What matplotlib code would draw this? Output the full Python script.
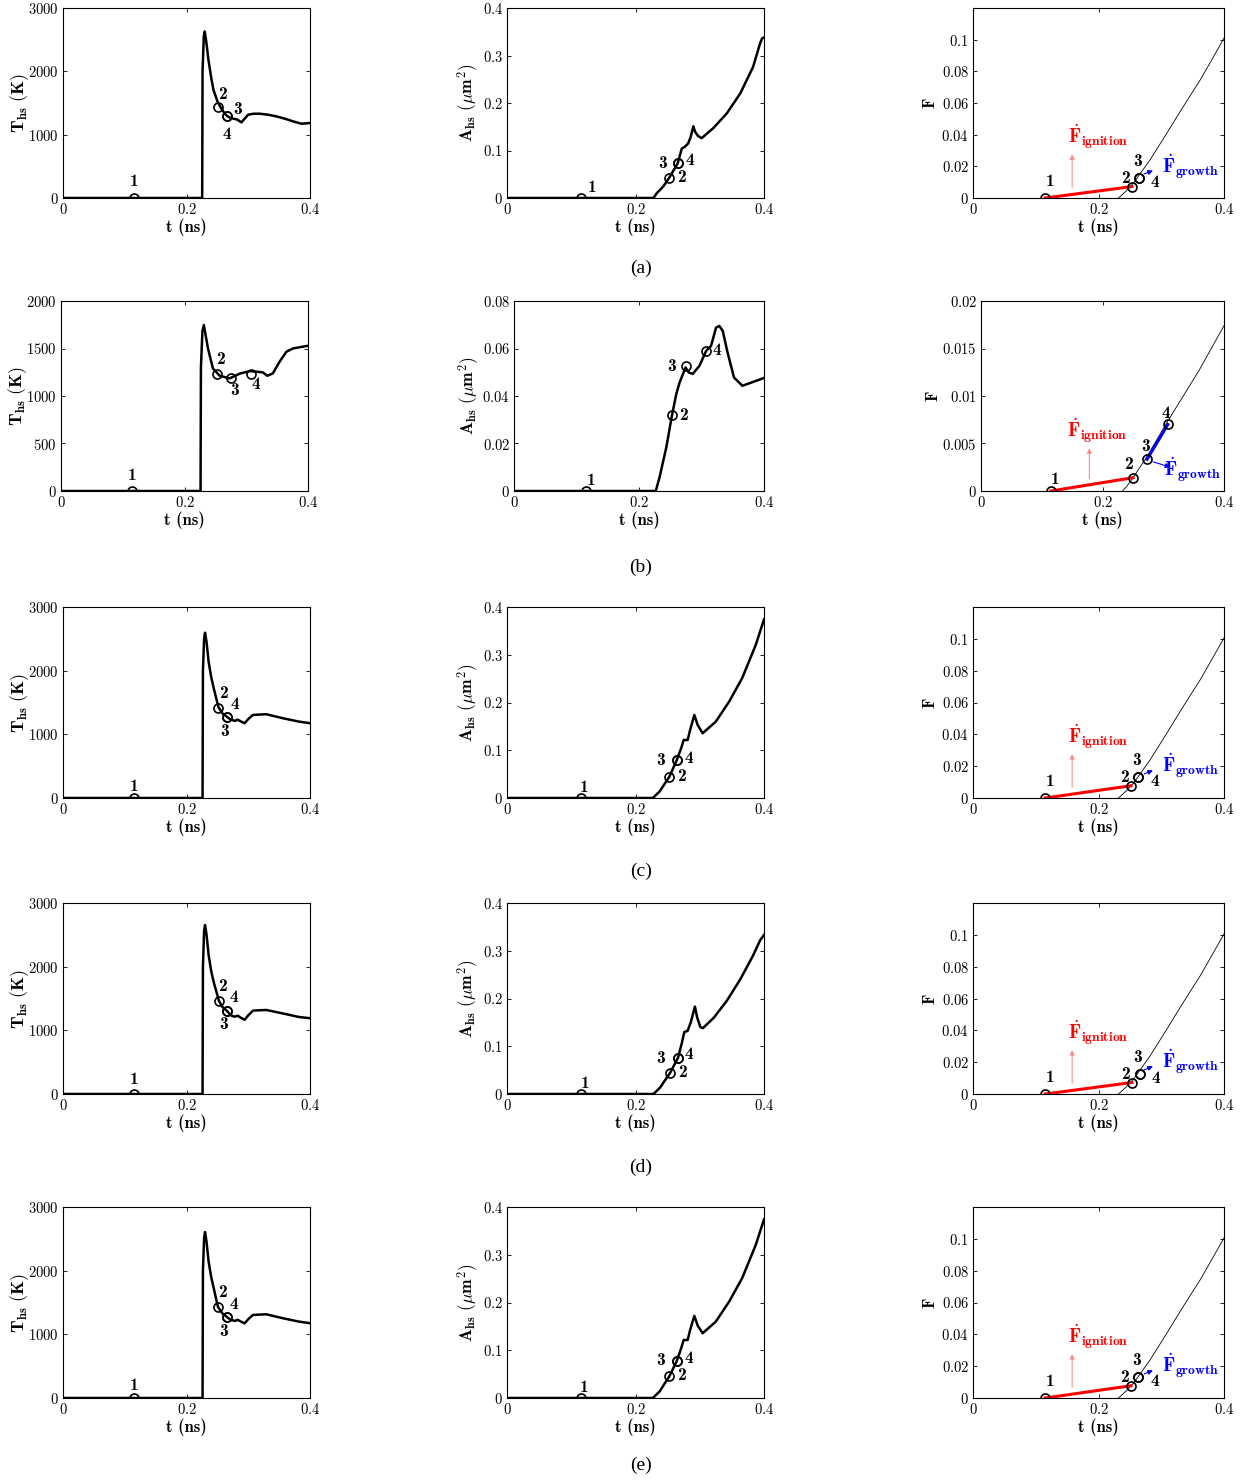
import matplotlib
matplotlib.use("Agg")
import matplotlib.pyplot as plt
from matplotlib.ticker import FuncFormatter, FixedLocator

plt.rcParams['mathtext.fontset'] = 'cm'
plt.rcParams['font.family'] = ['Liberation Serif', 'DejaVu Serif']

# ---------------- data ----------------
# row (a)
ta_T = [0.0, 0.2254, 0.2260, 0.2280, 0.2295, 0.2320, 0.2355, 0.2400, 0.2436, 0.2500, 0.2544, 0.2600,
        0.2650, 0.2700, 0.2757, 0.2820, 0.2890, 0.2940, 0.2997, 0.3080, 0.3186, 0.3320, 0.3455, 0.3600,
        0.3725, 0.3860, 0.4000]
Ta = [0, 0, 2000, 2550, 2630, 2470, 2184, 1900, 1710, 1530, 1446, 1360, 1300, 1270, 1252, 1240,
      1194, 1250, 1315, 1330, 1331, 1315, 1289, 1250, 1210, 1173, 1184]
ta_A = [0.0, 0.228, 0.233, 0.243, 0.2527, 0.2657, 0.272, 0.277, 0.282, 0.286, 0.290, 0.2926, 0.297,
        0.303, 0.321, 0.342, 0.363, 0.383, 0.394, 0.397, 0.400]
Aa = [0, 0, 0.010, 0.024, 0.043, 0.073, 0.104, 0.108, 0.115, 0.129, 0.151, 0.140, 0.131, 0.126,
      0.147, 0.178, 0.220, 0.276, 0.326, 0.336, 0.338]
ta_F = [0.232, 0.243, 0.2555, 0.282, 0.309, 0.335, 0.362, 0.383, 0.400]
Fa = [0, 0.0040, 0.0093, 0.024, 0.041, 0.0577, 0.0745, 0.089, 0.101]
pa_t_T, pa_T = [0.115, 0.2506, 0.265, 0.2655], [0, 1437, 1289, 1289]
pa_t_A, pa_A = [0.115, 0.2527, 0.2657, 0.2657], [0, 0.043, 0.073, 0.073]
pa_t_F, pa_F = [0.115, 0.253, 0.265, 0.265], [0, 0.0072, 0.0128, 0.0128]

# row (b)
tb_T = [0.0, 0.226, 0.2266, 0.2290, 0.2313, 0.2340, 0.238, 0.246, 0.257, 0.273, 0.290, 0.306, 0.318,
        0.327, 0.334, 0.343, 0.354, 0.365, 0.376, 0.388, 0.400]
Tb = [0, 0, 1300, 1680, 1747, 1650, 1501, 1290, 1213, 1185, 1237, 1262, 1255, 1248, 1213, 1237,
      1361, 1466, 1501, 1515, 1529]
tb_A = [0.0, 0.2268, 0.233, 0.2438, 0.2527, 0.2597, 0.265, 0.2745, 0.2797, 0.286, 0.2967, 0.3074,
        0.3153, 0.3233, 0.3285, 0.334, 0.3417, 0.352, 0.3655, 0.400]
Ab = [0, 0, 0.0059, 0.0185, 0.0318, 0.0409, 0.0457, 0.052, 0.0499, 0.0493, 0.0527, 0.059, 0.0611,
      0.0688, 0.0695, 0.0674, 0.0583, 0.0478, 0.0443, 0.0476]
tb_F = [0.233, 0.240, 0.2503, 0.272, 0.305, 0.332, 0.359, 0.400]
Fb = [0, 0.0005, 0.0014, 0.0035, 0.0071, 0.0099, 0.0127, 0.0174]
pb_t_T, pb_T = [0.115, 0.252, 0.275, 0.307], [0, 1227, 1185, 1227]
pb_t_A, pb_A = [0.115, 0.2527, 0.2745, 0.3074], [0, 0.0318, 0.0525, 0.059]
pb_t_F, pb_F = [0.115, 0.2503, 0.2733, 0.3075], [0, 0.0014, 0.00334, 0.0070]

# row (c)
tc_T = [0.0, 0.226, 0.2266, 0.2285, 0.2300, 0.2325, 0.2357, 0.2400, 0.244, 0.2517, 0.258, 0.265,
        0.270, 0.274, 0.278, 0.283, 0.2876, 0.294, 0.300, 0.3077, 0.329, 0.356, 0.382, 0.400]
Tc = [0, 0, 2000, 2500, 2596, 2450, 2147, 1900, 1727, 1430, 1330, 1279, 1242, 1225, 1211, 1230,
      1205, 1174, 1240, 1305, 1316, 1253, 1200, 1175]
tc_A = [0.0, 0.227, 0.2374, 0.2529, 0.2642, 0.271, 0.275, 0.2812, 0.285, 0.2916, 0.2967, 0.3045,
        0.325, 0.3458, 0.366, 0.387, 0.400]
Ac = [0, 0, 0.0135, 0.045, 0.0794, 0.104, 0.1215, 0.1215, 0.1425, 0.174, 0.153, 0.1356, 0.160,
      0.202, 0.251, 0.320, 0.374]
tc_F = [0.232, 0.243, 0.2555, 0.282, 0.309, 0.335, 0.362, 0.383, 0.400]
Fc = [0, 0.0040, 0.0092, 0.0238, 0.0408, 0.0575, 0.0742, 0.0887, 0.1005]
pc_t_T, pc_T = [0.115, 0.2517, 0.265, 0.2655], [0, 1411, 1279, 1279]
pc_t_A, pc_A = [0.115, 0.2529, 0.2642, 0.2642], [0, 0.045, 0.0794, 0.0794]
pc_t_F, pc_F = [0.115, 0.2516, 0.2636, 0.2636], [0, 0.0077, 0.0132, 0.0132]

# row (d)
td_T = [0.0, 0.226, 0.2266, 0.2285, 0.2300, 0.2325, 0.2357, 0.2400, 0.244, 0.2526, 0.258, 0.2656,
        0.270, 0.274, 0.278, 0.283, 0.2876, 0.294, 0.300, 0.3077, 0.329, 0.356, 0.382, 0.400]
Td = [0, 0, 2000, 2560, 2654, 2500, 2190, 1930, 1760, 1461, 1370, 1304, 1255, 1225, 1215, 1230,
      1200, 1165, 1235, 1310, 1320, 1265, 1210, 1190]
td_A = [0.0, 0.228, 0.238, 0.2537, 0.266, 0.272, 0.276, 0.281, 0.286, 0.2925, 0.296, 0.301, 0.305,
        0.322, 0.342, 0.363, 0.383, 0.394, 0.400]
Ad = [0, 0, 0.013, 0.044, 0.0754, 0.106, 0.130, 0.132, 0.150, 0.183, 0.160, 0.140, 0.138, 0.160,
      0.195, 0.240, 0.290, 0.322, 0.333]
td_F = [0.232, 0.243, 0.2555, 0.282, 0.309, 0.335, 0.362, 0.383, 0.400]
Fd = [0, 0.0040, 0.0092, 0.0238, 0.0408, 0.0575, 0.0742, 0.0887, 0.1005]
pd_t_T, pd_T = [0.115, 0.2526, 0.2656, 0.2656], [0, 1461, 1304, 1304]
pd_t_A, pd_A = [0.115, 0.2537, 0.266, 0.266], [0, 0.044, 0.0754, 0.0754]
pd_t_F, pd_F = [0.115, 0.253, 0.2655, 0.2655], [0, 0.0072, 0.0128, 0.0128]

# row (e)
te_T = [0.0, 0.226, 0.2266, 0.2285, 0.2300, 0.2325, 0.2357, 0.2400, 0.244, 0.251, 0.258, 0.2656,
        0.270, 0.274, 0.278, 0.283, 0.2876, 0.294, 0.300, 0.3077, 0.329, 0.356, 0.382, 0.400]
Te = [0, 0, 2000, 2510, 2607, 2450, 2150, 1900, 1727, 1429, 1330, 1272, 1240, 1222, 1210, 1228,
      1203, 1172, 1238, 1305, 1315, 1253, 1200, 1175]
te_A = [0.0, 0.227, 0.2374, 0.2529, 0.2642, 0.271, 0.275, 0.2812, 0.285, 0.2916, 0.2967, 0.3045,
        0.325, 0.3458, 0.366, 0.387, 0.400]
Ae = [0, 0, 0.0135, 0.046, 0.0775, 0.104, 0.1215, 0.1215, 0.1425, 0.172, 0.152, 0.1356, 0.160,
      0.202, 0.251, 0.320, 0.374]
te_F = [0.232, 0.243, 0.2555, 0.282, 0.309, 0.335, 0.362, 0.383, 0.400]
Fe = [0, 0.0040, 0.0092, 0.0238, 0.0408, 0.0575, 0.0742, 0.0887, 0.1005]
pe_t_T, pe_T = [0.115, 0.251, 0.2656, 0.2656], [0, 1429, 1272, 1272]
pe_t_A, pe_A = [0.115, 0.2529, 0.2642, 0.2642], [0, 0.0461, 0.0775, 0.0775]
pe_t_F, pe_F = [0.115, 0.2516, 0.2636, 0.2636], [0, 0.0077, 0.0132, 0.0132]

captions = ['(a)', '(b)', '(c)', '(d)', '(e)']

# ---------------- layout (pixels) ----------------
W, H = 1244, 1481
row_y = [(8, 198), (301, 491), (607, 798), (903, 1094), (1207, 1398)]
cols_std = [(63, 310), (507, 764), (973, 1224)]
cols_b = [(61, 308), (514, 764), (981, 1224)]
ylab_x_std = [-0.13, -0.105, -0.14]   # y-label position, axes fraction
ylab_x_b = [-0.13, -0.131, -0.165]
caption_y = [268, 567, 871, 1167, 1465]

# label offsets (pixels) for markers 1..4 in each panel
off_T = [
    [(0, 16), (5, 12), (11, 7), (0, -18)],
    [(0, 15), (4, 15), (4, -12), (5, -10)],
    [(0, 11), (5, 15), (-2, -15), (8, 12)],
    [(0, 14), (4, 14), (-3, -14), (7, 13)],
    [(0, 12), (5, 15), (-3, -14), (7, 13)],
]
off_A = [
    [(11, 10), (12, 0), (-15, 0), (12, 3)],
    [(5, 10), (12, 0), (-14, 0), (11, 0)],
    [(3, 10), (12, 0), (-16, 0), (12, 2)],
    [(4, 11), (12, 0), (-17, -1), (11, 3)],
    [(3, 10), (12, 0), (-16, 0), (12, 2)],
]
off_F_std = [(5, 16), (-6, 8), (-2, 16), (16, -5)]
off_F_b = [(4, 11), (-5, 13), (-1, 13), (-2, 11)]

fmt = FuncFormatter(lambda v, p: r'$%s$' % ('%g' % v))


def make_axes(fig, xs, ys):
    x0, x1 = xs
    y0, y1 = ys
    return fig.add_axes([x0 / W, 1 - y1 / H, (x1 - x0) / W, (y1 - y0) / H])


def style_axes(ax, yticks, ylim):
    ax.set_xlim(0, 0.4)
    ax.set_ylim(*ylim)
    ax.xaxis.set_major_locator(FixedLocator([0, 0.2, 0.4]))
    ax.yaxis.set_major_locator(FixedLocator(yticks))
    ax.xaxis.set_major_formatter(fmt)
    ax.yaxis.set_major_formatter(fmt)
    ax.tick_params(direction='in', top=True, right=True, length=3, width=0.6,
                   labelsize=10.5, pad=3)
    for s in ax.spines.values():
        s.set_linewidth(0.8)
    ax.set_xlabel('t (ns)', fontsize=12, labelpad=1, family='cmb10')


def mark_points(ax, pt, pv, offsets):
    ax.plot(pt, pv, 'o', ls='none', mfc='none', mec='k', ms=6.5, mew=1.2, zorder=5)
    for i, (x, y) in enumerate(zip(pt, pv)):
        ax.annotate(str(i + 1), (x, y), xytext=offsets[i], family='cmb10',
                    textcoords='offset pixels', ha='center', va='center', fontsize=12.5)


fig = plt.figure(figsize=(W / 100, H / 100), dpi=100)

rows = [
    (ta_T, Ta, pa_t_T, pa_T, ta_A, Aa, pa_t_A, pa_A, ta_F, Fa, pa_t_F, pa_F),
    (tb_T, Tb, pb_t_T, pb_T, tb_A, Ab, pb_t_A, pb_A, tb_F, Fb, pb_t_F, pb_F),
    (tc_T, Tc, pc_t_T, pc_T, tc_A, Ac, pc_t_A, pc_A, tc_F, Fc, pc_t_F, pc_F),
    (td_T, Td, pd_t_T, pd_T, td_A, Ad, pd_t_A, pd_A, td_F, Fd, pd_t_F, pd_F),
    (te_T, Te, pe_t_T, pe_T, te_A, Ae, pe_t_A, pe_A, te_F, Fe, pe_t_F, pe_F),
]

for r, (tT, T, ptT, pT, tA, A, ptA, pA, tF, F, ptF, pF) in enumerate(rows):
    is_b = (r == 1)
    cols = cols_b if is_b else cols_std
    ylab_x = ylab_x_b if is_b else ylab_x_std

    # --- hot spot temperature
    ax = make_axes(fig, cols[0], row_y[r])
    ax.plot(tT, T, color='k', lw=1.8)
    mark_points(ax, ptT, pT, off_T[r])
    if is_b:
        style_axes(ax, [0, 500, 1000, 1500, 2000], (0, 2000))
    else:
        style_axes(ax, [0, 1000, 2000, 3000], (0, 3000))
    ax.set_ylabel(r'$\mathbf{T}_{\mathbf{hs}}\ \mathbf{(K)}$', fontsize=13)
    ax.yaxis.set_label_coords(ylab_x[0], 0.5)

    # --- hot spot area
    ax = make_axes(fig, cols[1], row_y[r])
    ax.plot(tA, A, color='k', lw=1.8)
    mark_points(ax, ptA, pA, off_A[r])
    if is_b:
        style_axes(ax, [0, 0.02, 0.04, 0.06, 0.08], (0, 0.08))
    else:
        style_axes(ax, [0, 0.1, 0.2, 0.3, 0.4], (0, 0.4))
    ax.set_ylabel(r'$\mathbf{A}_{\mathbf{hs}}\ (\mu\mathbf{m}^{\mathbf{2}})$', fontsize=12.5)
    ax.yaxis.set_label_coords(ylab_x[1], 0.5)

    # --- reacted fraction
    ax = make_axes(fig, cols[2], row_y[r])
    ax.plot(tF, F, color='k', lw=0.6)
    ax.plot(ptF[:2], pF[:2], color='#ff0000', lw=2.2, zorder=4)
    ax.plot(ptF[2:], pF[2:], color='#0000ff', lw=2.2, zorder=4)
    mark_points(ax, ptF, pF, off_F_b if is_b else off_F_std)
    if is_b:
        style_axes(ax, [0, 0.005, 0.01, 0.015, 0.02], (0, 0.02))
        ign_x, ign_y, arr_x, arr_y0, arr_y1 = 0.354, 0.281, 0.446, 0.05, 0.24
        gr_x, gr_y = 0.752, 0.074
        bl_from, bl_to = (0.697, 0.158), (0.79, 0.121)
    else:
        style_axes(ax, [0, 0.02, 0.04, 0.06, 0.08, 0.1], (0, 0.12))
        ign_x, ign_y, arr_x, arr_y0, arr_y1 = 0.38, 0.285, 0.395, 0.042, 0.245
        gr_x, gr_y = 0.752, 0.13
        bl_from, bl_to = (0.672, 0.121), (0.727, 0.15)
    ax.set_ylabel('F', fontsize=12, family='cmb10')
    ax.yaxis.set_label_coords(ylab_x[2], 0.5)
    ax.text(ign_x, ign_y, r'$\dot{\mathbf{F}}_{\mathbf{ignition}}$', color='#ff0000',
            transform=ax.transAxes, fontsize=14, ha='left', va='baseline')
    ax.annotate('', xy=(arr_x, arr_y1), xytext=(arr_x, arr_y0), xycoords='axes fraction',
                arrowprops=dict(arrowstyle='-|>', color='#ff8c8c', lw=0.8, mutation_scale=7))
    ax.text(gr_x, gr_y, r'$\dot{\mathbf{F}}_{\mathbf{growth}}$', color='#0000ff',
            transform=ax.transAxes, fontsize=14, ha='left', va='baseline')
    ax.annotate('', xy=bl_to, xytext=bl_from, xycoords='axes fraction',
                arrowprops=dict(arrowstyle='-|>', color='#0000ff', lw=0.8, mutation_scale=7))

    fig.text(641 / W, 1 - caption_y[r] / H, captions[r], ha='center', va='center',
             fontsize=14, family='Liberation Serif')

fig.savefig('out.png', dpi=100)
